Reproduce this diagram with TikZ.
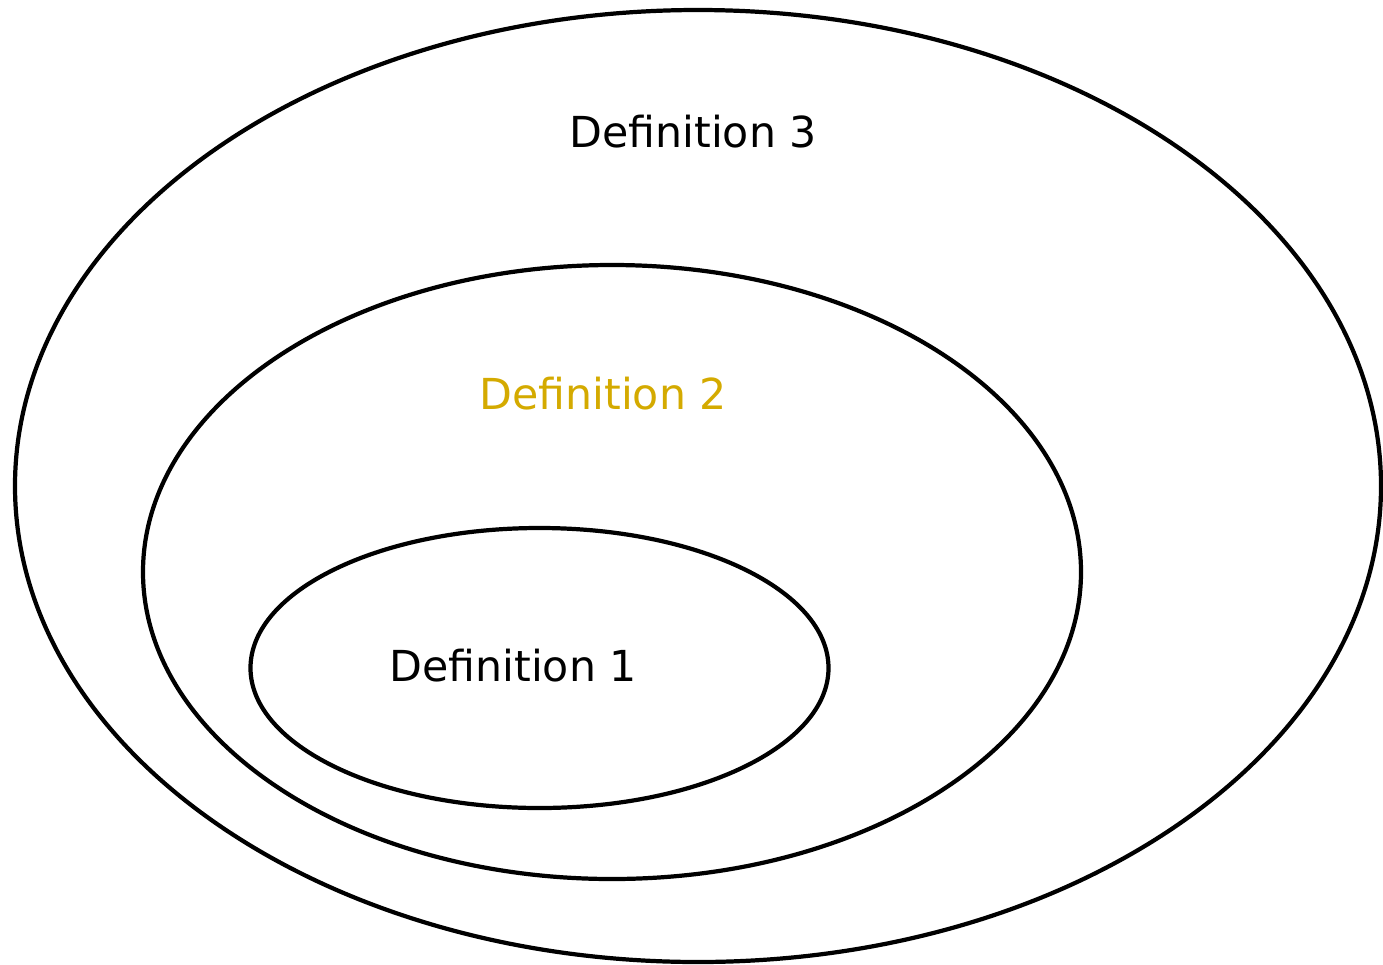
\documentclass[tikz,border=0pt]{standalone}
\usepackage{fontspec}
\setmainfont{DejaVu Sans}
\definecolor{gold}{HTML}{D4AA00}
\begin{document}
\begin{tikzpicture}[x=0.02cm,y=-0.02cm,
  set/.style={draw=black,line width=2.4pt},
  lbl/.style={inner sep=0pt,anchor=base west,font=\fontsize{24.3}{28}\selectfont}]
\useasboundingbox (0,0) rectangle (1383,964);
% nested sets
\draw[set] (698,486) ellipse [x radius=683, y radius=476];
\draw[set] (612,572) ellipse [x radius=469, y radius=307];
\draw[set] (539.5,668) ellipse [x radius=289, y radius=140];
% labels
\node[lbl] (d3) at (569,147) {Definition 3};
\node[lbl,text=gold] (d2) at (479,409) {Definition 2};
\node[lbl] (d1) at (389,681) {Definition 1};
\end{tikzpicture}
\end{document}
